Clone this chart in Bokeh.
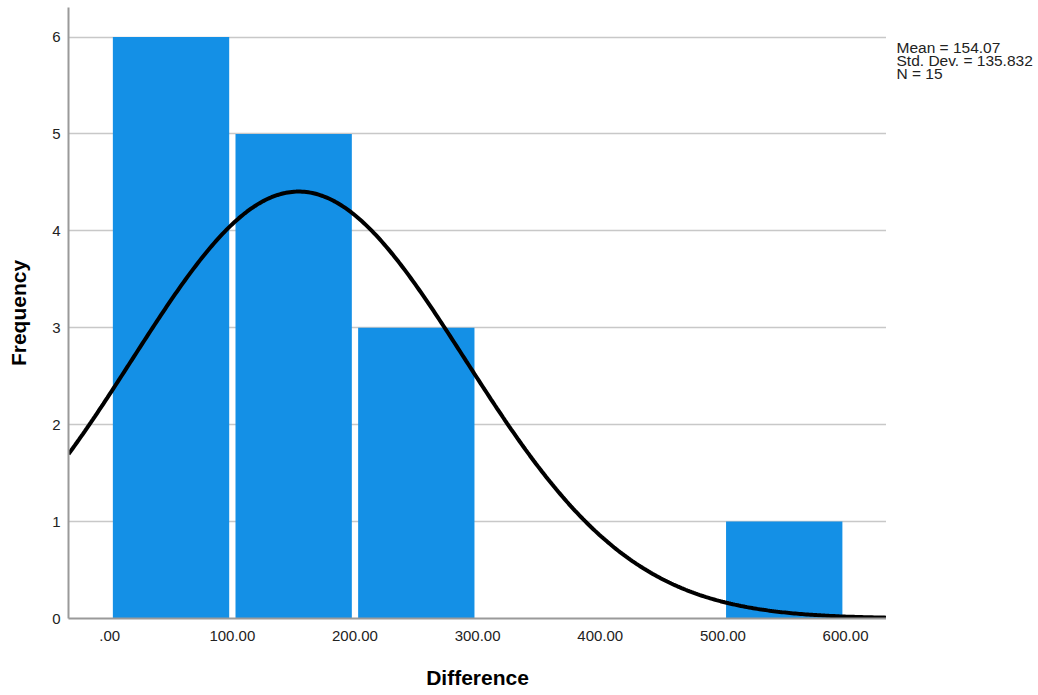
import numpy as np
from bokeh.plotting import figure
from bokeh.layouts import row
from bokeh.models import Range1d, FixedTicker
from bokeh.core.properties import value
from bokeh.embed import file_html
from bokeh.resources import INLINE

# Data
bin_starts = [0, 100, 200, 300, 400, 500]
frequencies = [6, 5, 3, 0, 0, 1]
bin_width = 100
mean_val = 154.07
std_val = 135.832
n_val = 15
x_ticks = [0, 100, 200, 300, 400, 500, 600]
x_tick_labels = [".00", "100.00", "200.00", "300.00", "400.00", "500.00", "600.00"]
y_ticks = [0, 1, 2, 3, 4, 5, 6]
stats_lines = ["Mean = 154.07", "Std. Dev. = 135.832", "N = 15"]

FONT = "Liberation Sans"
x0, x1 = -33.6, 633.4
y0, y1 = 0, 6.305

W, H = 1038, 695
MAIN_W = 886

p = figure(width=MAIN_W, height=H, output_backend="svg", toolbar_location=None,
           x_range=Range1d(x0, x1), y_range=Range1d(y0, y1),
           min_border_left=68, min_border_right=0, min_border_top=7, min_border_bottom=77)
p.outline_line_color = None
p.background_fill_color = "white"
p.border_fill_color = "white"

# bars (white gap between bars)
inset = 2.57
lefts = [s + inset for s, f in zip(bin_starts, frequencies) if f > 0]
rights = [s + bin_width - inset for s, f in zip(bin_starts, frequencies) if f > 0]
tops = [f for f in frequencies if f > 0]
p.quad(left=lefts, right=rights, bottom=0, top=tops, fill_color="#1490e6", line_color=None)

# normal curve
xs = np.linspace(x0, x1, 400)
ys = n_val * bin_width / (std_val * np.sqrt(2 * np.pi)) * np.exp(-0.5 * ((xs - mean_val) / std_val) ** 2)
p.line(xs, ys, line_color="black", line_width=4)

# axes
p.xaxis.ticker = FixedTicker(ticks=x_ticks)
p.xaxis.major_label_overrides = {t: l for t, l in zip(x_ticks, x_tick_labels)}
p.yaxis.ticker = FixedTicker(ticks=y_ticks)
for ax in (p.xaxis, p.yaxis):
    ax.major_tick_line_color = None
    ax.minor_tick_line_color = None
    ax.axis_line_color = "#9a9a9a"
    ax.axis_line_width = 2
    ax.major_label_text_font = FONT
    ax.major_label_text_font_size = "15px"
    ax.major_label_text_color = "#222222"
    ax.axis_label_text_font = FONT
    ax.axis_label_text_font_size = "21px"
    ax.axis_label_text_font_style = "bold"
    ax.axis_label_text_color = "black"
p.xaxis.axis_label = "Difference"
p.yaxis.axis_label = "Frequency"
p.xaxis.major_label_standoff = 6
p.xaxis.axis_label_standoff = 22
p.yaxis.major_label_standoff = 2
p.yaxis.axis_label_standoff = 19

p.xgrid.grid_line_color = None
p.ygrid.ticker = FixedTicker(ticks=y_ticks[1:])
p.ygrid.grid_line_color = "#c8c8c8"
p.ygrid.grid_line_width = 1.5
p.ygrid.level = "underlay"

# stats text panel to the right
side_w = W - MAIN_W
s = figure(width=side_w, height=H, output_backend="svg", toolbar_location=None,
           x_range=Range1d(0, side_w), y_range=Range1d(H, 0),
           min_border_left=0, min_border_right=0, min_border_top=0, min_border_bottom=0)
s.axis.visible = False
s.grid.visible = False
s.outline_line_color = None
s.text(x=[10] * len(stats_lines), y=[45 + 15 * i for i in range(len(stats_lines))],
       text=stats_lines, text_font=value(FONT), text_font_size="15.5px",
       text_color="#222222", text_baseline="middle", text_align="left")

layout = row(p, s, spacing=0)
open("out.html", "w").write(file_html(layout, INLINE))
